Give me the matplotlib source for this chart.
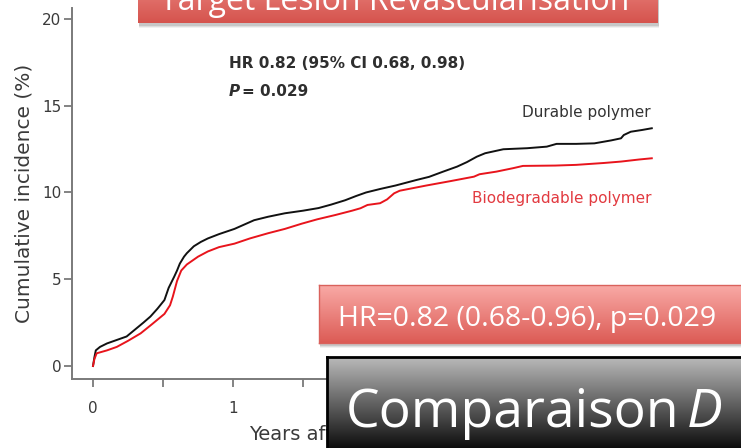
import numpy as np
import matplotlib
matplotlib.use("Agg")
import matplotlib.pyplot as plt
from matplotlib.patches import Rectangle
from matplotlib.colors import LinearSegmentedColormap

# =============================================================================
# DATA
# =============================================================================

years_durable = [0, 0.01, 0.02, 0.05, 0.10, 0.17, 0.24, 0.30, 0.36, 0.41, 0.46,
                 0.51, 0.54, 0.58, 0.60, 0.62, 0.65, 0.67, 0.72, 0.77, 0.82,
                 0.90, 1.01, 1.08, 1.15, 1.25, 1.37, 1.50, 1.61, 1.70, 1.80,
                 1.88, 1.95, 2.05, 2.16, 2.31, 2.40, 2.50, 2.60, 2.67, 2.74,
                 2.80, 2.93, 3.10, 3.24, 3.31, 3.45, 3.58, 3.70, 3.77, 3.79,
                 3.84, 3.92, 3.99]
inc_durable = [0, 0.5, 0.9, 1.1, 1.3, 1.5, 1.7, 2.1, 2.5, 2.85, 3.3,
               3.8, 4.5, 5.15, 5.5, 5.9, 6.3, 6.5, 6.9, 7.15, 7.35,
               7.6, 7.9, 8.15, 8.4, 8.6, 8.8, 8.95, 9.1, 9.3, 9.55,
               9.8, 10.0, 10.2, 10.4, 10.72, 10.9, 11.2, 11.49, 11.75, 12.06,
               12.26, 12.49, 12.55, 12.64, 12.8, 12.8, 12.83, 13.0, 13.12, 13.31,
               13.5, 13.6, 13.7]

years_biodeg = [0, 0.01, 0.026, 0.10, 0.17, 0.25, 0.34, 0.42, 0.51, 0.55, 0.57,
                0.60, 0.63, 0.67, 0.75, 0.82, 0.90, 1.01, 1.12, 1.25, 1.37,
                1.49, 1.60, 1.73, 1.85, 1.91, 1.96, 2.05, 2.10, 2.15, 2.19,
                2.38, 2.55, 2.72, 2.76, 2.88, 3.00, 3.07, 3.30, 3.45, 3.65,
                3.77, 3.90, 3.99]
inc_biodeg = [0, 0.4, 0.73, 0.9, 1.1, 1.45, 1.88, 2.4, 3.0, 3.5, 4.0,
              4.9, 5.5, 5.85, 6.3, 6.6, 6.85, 7.05, 7.35, 7.65, 7.9,
              8.2, 8.45, 8.7, 8.95, 9.09, 9.28, 9.38, 9.6, 9.95, 10.1,
              10.4, 10.65, 10.91, 11.05, 11.2, 11.4, 11.53, 11.55, 11.59, 11.7,
              11.78, 11.9, 11.97]

x_ticks = [0, 1, 2, 3, 4]
x_tick_labels = ["0", "1", "", "", ""]   # 2..4 sit under the slide box
x_minor = [0.5, 1.5, 2.5, 3.5]
y_ticks = [0, 5, 10, 15, 20]

# =============================================================================
# LAYOUT HELPERS (pixel coords, origin top-left)
# =============================================================================

W, H = 741, 448


def px_rect(x0, y0, x1, y1):
    return [x0 / W, 1 - y1 / H, (x1 - x0) / W, (y1 - y0) / H]


def fx(px):
    return px / W


def fy(py):
    return 1 - py / H


def gradient_box(x0, y0, x1, y1, top, bottom, edge=None, lw=0, z=1):
    # soft drop shadow
    for i, a in enumerate([0.08, 0.12, 0.16]):
        off = 5 - i
        fig.add_artist(Rectangle((fx(x0 + 1), fy(y1 + off)),
                                 (x1 - x0) / W, (y1 - y0) / H,
                                 transform=fig.transFigure, facecolor="#555555",
                                 edgecolor="none", alpha=a, zorder=z - 0.5))
    bax = fig.add_axes(px_rect(x0, y0, x1, y1))
    bax.set_zorder(z)
    cmap = LinearSegmentedColormap.from_list("g", [bottom, top])
    grad = np.linspace(0, 1, 256).reshape(-1, 1)
    bax.imshow(grad, cmap=cmap, aspect="auto", origin="lower",
               extent=[0, 1, 0, 1])
    bax.set_xticks([])
    bax.set_yticks([])
    for s in bax.spines.values():
        if edge:
            s.set_color(edge)
            s.set_linewidth(lw)
        else:
            s.set_visible(False)
    return bax


# =============================================================================
# CHART
# =============================================================================

fig = plt.figure(figsize=(W / 100, H / 100), dpi=100)
plt.rcParams["font.family"] = ["DejaVu Sans"]

ax = fig.add_axes(px_rect(72, 8, 677, 379))
ax.set_facecolor("none")
ax.plot(years_durable, inc_durable, color="#111111", lw=1.4)
ax.plot(years_biodeg, inc_biodeg, color="#e8141c", lw=1.4)

ax.set_xlim(-0.15, 4.17)
ax.set_ylim(-0.75, 20.63)
ax.set_xticks(x_ticks, x_tick_labels)
ax.set_xticks(x_minor, minor=True)
ax.set_yticks(y_ticks)

for side in ["top", "right"]:
    ax.spines[side].set_visible(False)
for side in ["left", "bottom"]:
    ax.spines[side].set_color("#7a7a7a")
    ax.spines[side].set_linewidth(1.4)

ax.tick_params(which="both", direction="out", length=5.5, width=1.3,
               color="#7a7a7a", labelcolor="#3a3a3a", labelsize=11)
ax.tick_params(axis="x", which="both", pad=10)
ax.tick_params(axis="y", pad=2)

ax.set_ylabel("Cumulative incidence (%)", fontsize=14.5, color="#3a3a3a",
              labelpad=6)
ax.set_xlabel("Years after randomisation", fontsize=14, color="#3a3a3a",
              labelpad=7)

fig.text(fx(229), fy(63), "HR 0.82 (95% CI 0.68, 0.98)", fontsize=11,
         fontweight="bold", color="#2e2e2e", va="center", ha="left")
fig.text(fx(229), fy(92), "P", fontsize=11, fontweight="bold",
         fontstyle="italic", color="#2e2e2e", va="center", ha="left")
fig.text(fx(242), fy(92), "= 0.029", fontsize=11, fontweight="bold",
         color="#2e2e2e", va="center", ha="left")

fig.text(fx(651), fy(112), "Durable polymer", fontsize=11,
         color="#333333", va="center", ha="right")
fig.text(fx(651), fy(198), "Biodegradable polymer", fontsize=11,
         color="#e23a40", va="center", ha="right")

# =============================================================================
# SLIDE OVERLAYS
# =============================================================================

gradient_box(138, -36, 658, 22.7, "#f19590", "#d5534d", z=1)
fig.text(fx(160), fy(10), "Target Lesion Revascularisation",
         fontsize=23, family="Open Sans", color="white",
         ha="left", va="baseline", zorder=5)

gradient_box(319, 285, 745, 343, "#f9aaa6", "#dc5b55",
             edge="#d9625c", lw=1.0, z=2)
fig.text(fx(338), fy(326), "HR=0.82 (0.68-0.96), p=0.029",
         fontsize=20.5, family="Open Sans", color="white",
         ha="left", va="baseline", zorder=5)

gradient_box(327, 357, 745, 455, "#bcbcbc", "#000000",
             edge="#000000", lw=2.0, z=3)
fig.text(fx(346), fy(427), "Comparaison", fontsize=38.5,
         family="Open Sans", color="white", ha="left", va="baseline",
         zorder=5)
fig.text(fx(687), fy(427), "D", fontsize=38.5, family="Open Sans",
         fontstyle="italic", color="white", ha="left", va="baseline",
         zorder=5)

fig.savefig("out.png", dpi=100)
